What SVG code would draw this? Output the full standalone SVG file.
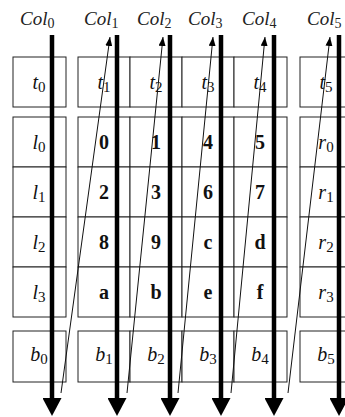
<svg xmlns="http://www.w3.org/2000/svg" width="345" height="417" viewBox="0 0 345 417">
<style>
.cell{fill:#fff;stroke:#222;stroke-width:1}
.lab{font-family:"Liberation Serif",serif;font-style:italic;font-size:20px;fill:#111;text-anchor:middle}
.lab tspan.s{font-style:normal;font-size:15px}
.num{font-family:"Liberation Serif",serif;font-weight:bold;font-size:20px;fill:#111;text-anchor:middle}
.col{font-family:"Liberation Serif",serif;font-style:italic;font-size:19px;fill:#222}
.col tspan.s{font-style:normal;font-size:14px}
.thick{stroke:#000;stroke-width:4.5;fill:none}
.thin{stroke:#111;stroke-width:1;fill:none}
</style>
<defs>
<marker id="down" viewBox="0 0 18 19" refX="0" refY="9.5" markerWidth="18" markerHeight="19" markerUnits="userSpaceOnUse" orient="auto">
<path d="M0,0 L18,9.5 L0,19 z" fill="#000"/>
</marker>
<marker id="up" viewBox="0 0 9 7" refX="9" refY="3.5" markerWidth="9" markerHeight="7" markerUnits="userSpaceOnUse" orient="auto">
<path d="M0,0 L9,3.5 L0,7 z" fill="#000"/>
</marker>
</defs>
<rect width="345" height="417" fill="#fff"/>

<g id="labels-col">
<text class="col" x="20" y="25">Col<tspan class="s" dy="3">0</tspan></text>
<text class="col" x="84" y="25">Col<tspan class="s" dy="3">1</tspan></text>
<text class="col" x="137" y="25">Col<tspan class="s" dy="3">2</tspan></text>
<text class="col" x="188" y="25">Col<tspan class="s" dy="3">3</tspan></text>
<text class="col" x="242" y="25">Col<tspan class="s" dy="3">4</tspan></text>
<text class="col" x="307" y="25">Col<tspan class="s" dy="3">5</tspan></text>
</g>

<g id="t0"><rect class="cell" x="13" y="57" width="53" height="50"/><text class="lab" x="39" y="89">t<tspan class="s" dy="3">0</tspan></text></g>
<g id="t1"><rect class="cell" x="78" y="57" width="52" height="50"/><text class="lab" x="104" y="89">t<tspan class="s" dy="3">1</tspan></text></g>
<g id="t2"><rect class="cell" x="130" y="57" width="52" height="50"/><text class="lab" x="156" y="89">t<tspan class="s" dy="3">2</tspan></text></g>
<g id="t3"><rect class="cell" x="182" y="57" width="52" height="50"/><text class="lab" x="208" y="89">t<tspan class="s" dy="3">3</tspan></text></g>
<g id="t4"><rect class="cell" x="234" y="57" width="53" height="50"/><text class="lab" x="260" y="89">t<tspan class="s" dy="3">4</tspan></text></g>
<g id="t5"><rect class="cell" x="300" y="57" width="52" height="50"/><text class="lab" x="326" y="89">t<tspan class="s" dy="3">5</tspan></text></g>

<g id="l0"><rect class="cell" x="13" y="117" width="53" height="50"/><text class="lab" x="39" y="149">l<tspan class="s" dy="3">0</tspan></text></g>
<g id="l1"><rect class="cell" x="13" y="167" width="53" height="50"/><text class="lab" x="39" y="199">l<tspan class="s" dy="3">1</tspan></text></g>
<g id="l2"><rect class="cell" x="13" y="217" width="53" height="50"/><text class="lab" x="39" y="249">l<tspan class="s" dy="3">2</tspan></text></g>
<g id="l3"><rect class="cell" x="13" y="267" width="53" height="50"/><text class="lab" x="39" y="299">l<tspan class="s" dy="3">3</tspan></text></g>

<g id="c0"><rect class="cell" x="78" y="117" width="52" height="50"/><text class="num" x="104" y="149">0</text></g>
<g id="c1"><rect class="cell" x="130" y="117" width="52" height="50"/><text class="num" x="156" y="149">1</text></g>
<g id="c4"><rect class="cell" x="182" y="117" width="52" height="50"/><text class="num" x="208" y="149">4</text></g>
<g id="c5"><rect class="cell" x="234" y="117" width="53" height="50"/><text class="num" x="260" y="149">5</text></g>
<g id="c2"><rect class="cell" x="78" y="167" width="52" height="50"/><text class="num" x="104" y="199">2</text></g>
<g id="c3"><rect class="cell" x="130" y="167" width="52" height="50"/><text class="num" x="156" y="199">3</text></g>
<g id="c6"><rect class="cell" x="182" y="167" width="52" height="50"/><text class="num" x="208" y="199">6</text></g>
<g id="c7"><rect class="cell" x="234" y="167" width="53" height="50"/><text class="num" x="260" y="199">7</text></g>
<g id="c8"><rect class="cell" x="78" y="217" width="52" height="50"/><text class="num" x="104" y="249">8</text></g>
<g id="c9"><rect class="cell" x="130" y="217" width="52" height="50"/><text class="num" x="156" y="249">9</text></g>
<g id="cc"><rect class="cell" x="182" y="217" width="52" height="50"/><text class="num" x="208" y="249">c</text></g>
<g id="cd"><rect class="cell" x="234" y="217" width="53" height="50"/><text class="num" x="260" y="249">d</text></g>
<g id="ca"><rect class="cell" x="78" y="267" width="52" height="50"/><text class="num" x="104" y="299">a</text></g>
<g id="cb"><rect class="cell" x="130" y="267" width="52" height="50"/><text class="num" x="156" y="299">b</text></g>
<g id="ce"><rect class="cell" x="182" y="267" width="52" height="50"/><text class="num" x="208" y="299">e</text></g>
<g id="cf"><rect class="cell" x="234" y="267" width="53" height="50"/><text class="num" x="260" y="299">f</text></g>

<g id="r0"><rect class="cell" x="300" y="117" width="52" height="50"/><text class="lab" x="326" y="149">r<tspan class="s" dy="3">0</tspan></text></g>
<g id="r1"><rect class="cell" x="300" y="167" width="52" height="50"/><text class="lab" x="326" y="199">r<tspan class="s" dy="3">1</tspan></text></g>
<g id="r2"><rect class="cell" x="300" y="217" width="52" height="50"/><text class="lab" x="326" y="249">r<tspan class="s" dy="3">2</tspan></text></g>
<g id="r3"><rect class="cell" x="300" y="267" width="52" height="50"/><text class="lab" x="326" y="299">r<tspan class="s" dy="3">3</tspan></text></g>

<g id="b0"><rect class="cell" x="13" y="331" width="53" height="51"/><text class="lab" x="39" y="361">b<tspan class="s" dy="3">0</tspan></text></g>
<g id="b1"><rect class="cell" x="78" y="331" width="52" height="51"/><text class="lab" x="104" y="361">b<tspan class="s" dy="3">1</tspan></text></g>
<g id="b2"><rect class="cell" x="130" y="331" width="52" height="51"/><text class="lab" x="156" y="361">b<tspan class="s" dy="3">2</tspan></text></g>
<g id="b3"><rect class="cell" x="182" y="331" width="52" height="51"/><text class="lab" x="208" y="361">b<tspan class="s" dy="3">3</tspan></text></g>
<g id="b4"><rect class="cell" x="234" y="331" width="53" height="51"/><text class="lab" x="260" y="361">b<tspan class="s" dy="3">4</tspan></text></g>
<g id="b5"><rect class="cell" x="300" y="331" width="52" height="51"/><text class="lab" x="326" y="361">b<tspan class="s" dy="3">5</tspan></text></g>

<g id="connectors">
<line class="thick" x1="52" y1="35" x2="52" y2="398" marker-end="url(#down)"/>
<line class="thick" x1="117" y1="35" x2="117" y2="398" marker-end="url(#down)"/>
<line class="thick" x1="170" y1="35" x2="170" y2="398" marker-end="url(#down)"/>
<line class="thick" x1="221" y1="35" x2="221" y2="398" marker-end="url(#down)"/>
<line class="thick" x1="274" y1="35" x2="274" y2="398" marker-end="url(#down)"/>
<line class="thick" x1="339" y1="35" x2="339" y2="398" marker-end="url(#down)"/>
<line class="thin" x1="61" y1="393" x2="110" y2="37" marker-end="url(#up)"/>
<line class="thin" x1="127" y1="393" x2="163" y2="37" marker-end="url(#up)"/>
<line class="thin" x1="178" y1="393" x2="213" y2="37" marker-end="url(#up)"/>
<line class="thin" x1="231" y1="393" x2="265" y2="37" marker-end="url(#up)"/>
<line class="thin" x1="288" y1="393" x2="330" y2="37" marker-end="url(#up)"/>
</g>
</svg>
